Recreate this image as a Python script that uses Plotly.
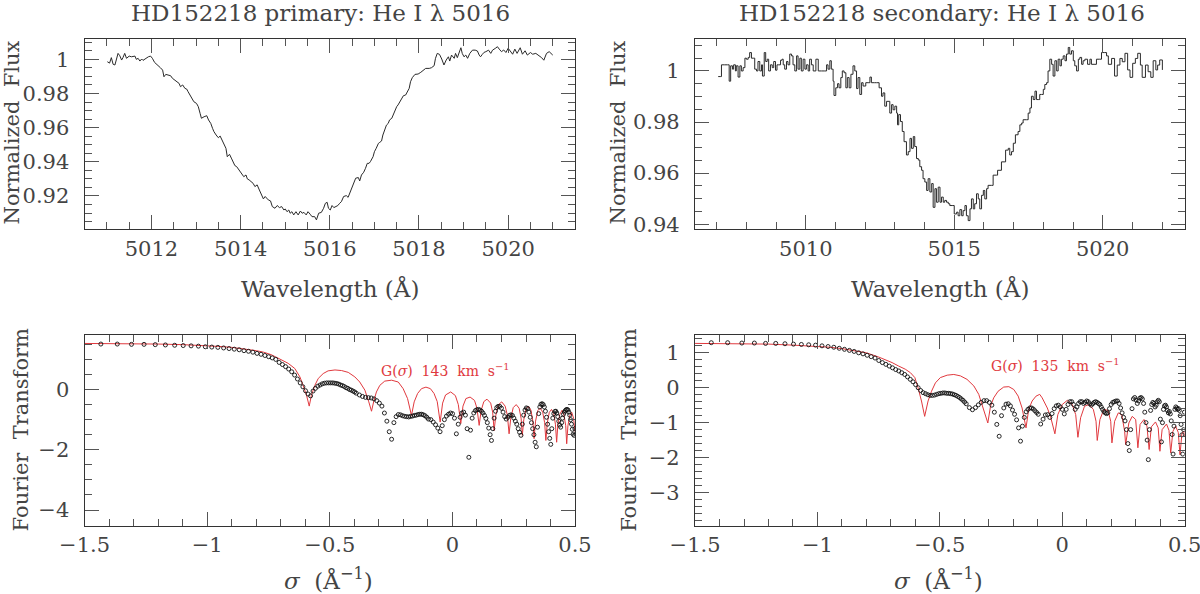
import numpy as np
import plotly.graph_objects as go

# ---- top-left: primary He I 5016 profile
prim_wave = [5011.01, 5011.06, 5011.10, 5011.14, 5011.18, 5011.21, 5011.25, 5011.29, 5011.33, 5011.36,
             5011.40, 5011.44, 5011.50, 5011.55, 5011.63, 5011.66, 5011.70, 5011.74, 5011.78, 5011.81,
             5011.87, 5011.93, 5011.98, 5012.02, 5012.07, 5012.11, 5012.15, 5012.20, 5012.25, 5012.28,
             5012.32, 5012.37, 5012.43, 5012.47, 5012.52, 5012.56, 5012.62, 5012.65, 5012.70, 5012.75,
             5012.79, 5012.82, 5012.86, 5012.90, 5012.95, 5013.01, 5013.05, 5013.09, 5013.12, 5013.18,
             5013.24, 5013.28, 5013.33, 5013.37, 5013.40, 5013.45, 5013.50, 5013.54, 5013.59, 5013.63,
             5013.67, 5013.70, 5013.75, 5013.80, 5013.83, 5013.87, 5013.91, 5013.96, 5014.02, 5014.07,
             5014.12, 5014.15, 5014.19, 5014.25, 5014.28, 5014.32, 5014.37, 5014.42, 5014.47, 5014.51,
             5014.55, 5014.58, 5014.62, 5014.67, 5014.71, 5014.77, 5014.82, 5014.87, 5014.92, 5014.97,
             5015.00, 5015.04, 5015.08, 5015.11, 5015.15, 5015.19, 5015.24, 5015.29, 5015.34, 5015.38,
             5015.42, 5015.47, 5015.51, 5015.56, 5015.60, 5015.66, 5015.70, 5015.75, 5015.81, 5015.86,
             5015.90, 5015.94, 5015.97, 5016.01, 5016.05, 5016.09, 5016.13, 5016.18, 5016.22, 5016.26,
             5016.31, 5016.37, 5016.41, 5016.46, 5016.50, 5016.54, 5016.58, 5016.64, 5016.67, 5016.71,
             5016.76, 5016.80, 5016.84, 5016.88, 5016.91, 5016.97, 5017.00, 5017.04, 5017.09, 5017.12,
             5017.16, 5017.19, 5017.23, 5017.27, 5017.31, 5017.34, 5017.39, 5017.42, 5017.46, 5017.50,
             5017.53, 5017.57, 5017.61, 5017.65, 5017.70, 5017.74, 5017.78, 5017.81, 5017.85, 5017.91,
             5017.98, 5018.04, 5018.09, 5018.15, 5018.23, 5018.28, 5018.34, 5018.37, 5018.41, 5018.46,
             5018.51, 5018.56, 5018.61, 5018.66, 5018.69, 5018.73, 5018.79, 5018.82, 5018.86, 5018.90,
             5018.94, 5018.97, 5019.01, 5019.05, 5019.09, 5019.14, 5019.20, 5019.26, 5019.31, 5019.35,
             5019.38, 5019.42, 5019.46, 5019.50, 5019.56, 5019.61, 5019.65, 5019.71, 5019.76, 5019.80,
             5019.85, 5019.90, 5019.95, 5020.00, 5020.05, 5020.10, 5020.15, 5020.20, 5020.27, 5020.32,
             5020.38, 5020.43, 5020.50, 5020.55, 5020.62, 5020.68, 5020.75, 5020.80, 5020.86, 5020.92,
             5021.00]
prim_flux = [0.9986, 0.9978, 1.0010, 0.9971, 0.9967, 1.0002, 1.0035, 1.0021, 0.9996, 1.0010,
             1.0035, 1.0006, 1.0019, 1.0015, 1.0019, 1.0000, 1.0006, 0.9990, 1.0002, 0.9994,
             1.0006, 1.0015, 1.0019, 1.0006, 0.9982, 0.9974, 0.9961, 0.9951, 0.9937, 0.9898,
             0.9912, 0.9908, 0.9904, 0.9889, 0.9879, 0.9869, 0.9859, 0.9840, 0.9850, 0.9830,
             0.9826, 0.9811, 0.9791, 0.9772, 0.9752, 0.9742, 0.9723, 0.9684, 0.9655, 0.9664,
             0.9670, 0.9645, 0.9625, 0.9596, 0.9577, 0.9557, 0.9541, 0.9551, 0.9522, 0.9498,
             0.9479, 0.9430, 0.9444, 0.9417, 0.9401, 0.9378, 0.9372, 0.9352, 0.9333, 0.9313,
             0.9323, 0.9300, 0.9294, 0.9284, 0.9274, 0.9255, 0.9265, 0.9235, 0.9206, 0.9183,
             0.9197, 0.9187, 0.9177, 0.9171, 0.9138, 0.9128, 0.9144, 0.9132, 0.9138, 0.9118,
             0.9124, 0.9108, 0.9118, 0.9099, 0.9108, 0.9089, 0.9108, 0.9089, 0.9112, 0.9099,
             0.9104, 0.9089, 0.9108, 0.9093, 0.9079, 0.9079, 0.9060, 0.9099, 0.9104, 0.9128,
             0.9157, 0.9163, 0.9128, 0.9118, 0.9144, 0.9132, 0.9138, 0.9144, 0.9157, 0.9167,
             0.9197, 0.9202, 0.9192, 0.9225, 0.9255, 0.9284, 0.9304, 0.9308, 0.9288, 0.9323,
             0.9339, 0.9362, 0.9391, 0.9391, 0.9401, 0.9430, 0.9459, 0.9479, 0.9508, 0.9514,
             0.9522, 0.9557, 0.9586, 0.9615, 0.9625, 0.9645, 0.9655, 0.9674, 0.9703, 0.9723,
             0.9733, 0.9752, 0.9772, 0.9787, 0.9791, 0.9811, 0.9830, 0.9869, 0.9893, 0.9912,
             0.9914, 0.9924, 0.9937, 0.9947, 0.9947, 0.9951, 0.9963, 1.0006, 1.0035, 1.0029,
             1.0002, 0.9967, 0.9996, 1.0015, 0.9990, 1.0025, 1.0006, 1.0035, 1.0010, 1.0045,
             1.0068, 1.0035, 1.0015, 1.0025, 1.0006, 1.0035, 1.0054, 1.0054, 1.0049, 1.0025,
             1.0015, 1.0029, 1.0041, 1.0045, 1.0054, 1.0035, 1.0054, 1.0064, 1.0074, 1.0060,
             1.0045, 1.0055, 1.0040, 1.0065, 1.0050, 1.0030, 1.0060, 1.0035, 1.0068, 1.0030,
             1.0050, 1.0025, 1.0040, 1.0030, 1.0035, 1.0025, 1.0010, 0.9995, 1.0035, 1.0045,
             1.0025]

# ---- top-right: secondary He I 5016 profile
sec_wave = [5007.05, 5007.12, 5007.16, 5007.27, 5007.36, 5007.42, 5007.47, 5007.53, 5007.57, 5007.63,
            5007.66, 5007.72, 5007.78, 5007.83, 5007.89, 5007.95, 5008.00, 5008.06, 5008.11, 5008.17,
            5008.23, 5008.28, 5008.34, 5008.39, 5008.45, 5008.51, 5008.54, 5008.60, 5008.65, 5008.70,
            5008.75, 5008.81, 5008.87, 5008.92, 5008.98, 5009.03, 5009.09, 5009.15, 5009.20, 5009.24,
            5009.29, 5009.35, 5009.40, 5009.46, 5009.52, 5009.57, 5009.63, 5009.69, 5009.74, 5009.80,
            5009.85, 5009.91, 5009.97, 5010.02, 5010.08, 5010.13, 5010.19, 5010.25, 5010.34, 5010.42,
            5010.53, 5010.64, 5010.70, 5010.75, 5010.81, 5010.86, 5010.92, 5010.95, 5011.01, 5011.07,
            5011.12, 5011.18, 5011.23, 5011.29, 5011.35, 5011.40, 5011.46, 5011.52, 5011.59, 5011.65,
            5011.71, 5011.76, 5011.82, 5011.88, 5011.93, 5012.02, 5012.10, 5012.16, 5012.21, 5012.32,
            5012.38, 5012.47, 5012.55, 5012.60, 5012.66, 5012.72, 5012.77, 5012.83, 5012.89, 5012.94,
            5013.00, 5013.06, 5013.09, 5013.13, 5013.19, 5013.25, 5013.31, 5013.39, 5013.45, 5013.51,
            5013.56, 5013.62, 5013.67, 5013.73, 5013.79, 5013.84, 5013.90, 5013.95, 5014.01, 5014.07,
            5014.12, 5014.18, 5014.24, 5014.29, 5014.35, 5014.40, 5014.46, 5014.52, 5014.57, 5014.63,
            5014.68, 5014.74, 5014.80, 5014.85, 5014.93, 5015.00, 5015.08, 5015.13, 5015.19, 5015.25,
            5015.30, 5015.36, 5015.41, 5015.47, 5015.53, 5015.58, 5015.64, 5015.69, 5015.75, 5015.81,
            5015.86, 5015.92, 5015.98, 5016.03, 5016.09, 5016.14, 5016.26, 5016.31, 5016.42, 5016.46,
            5016.54, 5016.59, 5016.68, 5016.73, 5016.82, 5016.87, 5016.93, 5016.99, 5017.06, 5017.15,
            5017.21, 5017.27, 5017.32, 5017.43, 5017.49, 5017.55, 5017.60, 5017.66, 5017.72, 5017.77,
            5017.83, 5017.88, 5017.94, 5018.00, 5018.05, 5018.11, 5018.16, 5018.22, 5018.28, 5018.33,
            5018.39, 5018.45, 5018.50, 5018.56, 5018.61, 5018.67, 5018.73, 5018.78, 5018.84, 5018.89,
            5018.95, 5019.01, 5019.06, 5019.12, 5019.18, 5019.23, 5019.29, 5019.34, 5019.40, 5019.49,
            5019.57, 5019.62, 5019.74, 5019.79, 5019.90, 5019.96, 5020.07, 5020.13, 5020.19, 5020.30,
            5020.40, 5020.49, 5020.58, 5020.66, 5020.75, 5020.84, 5020.92, 5021.01, 5021.10, 5021.18,
            5021.27, 5021.33, 5021.44, 5021.53, 5021.62, 5021.70, 5021.79, 5021.85, 5021.92, 5022.01]
sec_flux = [0.9978, 0.9978, 1.0024, 1.0024, 1.0024, 0.9960, 1.0020, 1.0007, 1.0024, 1.0000,
            1.0020, 0.9976, 1.0020, 1.0000, 1.0013, 1.0050, 1.0046, 1.0053, 1.0072, 1.0050,
            1.0050, 1.0007, 1.0000, 1.0037, 1.0000, 1.0024, 0.9980, 1.0072, 1.0037, 1.0046,
            1.0000, 1.0024, 1.0013, 1.0037, 1.0003, 1.0024, 1.0024, 1.0042, 1.0046, 1.0024,
            1.0007, 1.0037, 1.0024, 1.0066, 1.0059, 1.0024, 1.0000, 1.0059, 1.0007, 1.0050,
            1.0000, 1.0046, 1.0007, 1.0024, 1.0000, 1.0046, 1.0024, 1.0000, 1.0046, 1.0000,
            1.0000, 1.0000, 1.0024, 1.0007, 1.0040, 1.0007, 0.9960, 0.9904, 0.9934, 0.9950,
            0.9934, 0.9974, 1.0000, 0.9993, 0.9934, 0.9974, 0.9934, 0.9987, 1.0020, 1.0000,
            0.9931, 0.9974, 0.9908, 0.9954, 0.9941, 0.9954, 0.9954, 0.9976, 0.9954, 0.9954,
            0.9954, 0.9934, 0.9901, 0.9914, 0.9862, 0.9881, 0.9881, 0.9835, 0.9868, 0.9848,
            0.9862, 0.9835, 0.9789, 0.9829, 0.9802, 0.9763, 0.9723, 0.9671, 0.9684, 0.9736,
            0.9697, 0.9743, 0.9704, 0.9657, 0.9651, 0.9625, 0.9611, 0.9578, 0.9565, 0.9532,
            0.9578, 0.9526, 0.9559, 0.9466, 0.9539, 0.9486, 0.9545, 0.9486, 0.9506, 0.9486,
            0.9493, 0.9486, 0.9480, 0.9473, 0.9473, 0.9440, 0.9447, 0.9433, 0.9457, 0.9433,
            0.9453, 0.9473, 0.9433, 0.9414, 0.9460, 0.9499, 0.9460, 0.9480, 0.9519, 0.9499,
            0.9460, 0.9513, 0.9532, 0.9499, 0.9539, 0.9552, 0.9552, 0.9592, 0.9592, 0.9611,
            0.9611, 0.9644, 0.9644, 0.9690, 0.9697, 0.9671, 0.9684, 0.9717, 0.9750, 0.9763,
            0.9789, 0.9796, 0.9809, 0.9809, 0.9835, 0.9855, 0.9901, 0.9888, 0.9921, 0.9888,
            0.9888, 0.9908, 0.9908, 0.9928, 0.9947, 0.9954, 1.0000, 1.0046, 1.0026, 0.9980,
            1.0040, 1.0000, 1.0046, 1.0020, 1.0046, 1.0059, 1.0040, 1.0066, 1.0092, 1.0066,
            1.0079, 1.0040, 1.0020, 1.0000, 1.0046, 1.0053, 1.0026, 1.0040, 1.0046, 1.0026,
            1.0046, 1.0026, 1.0026, 1.0046, 1.0046, 1.0072, 1.0072, 1.0059, 1.0026, 1.0049,
            0.9980, 1.0023, 1.0049, 1.0036, 1.0069, 1.0004, 0.9975, 1.0030, 1.0049, 1.0069,
            1.0023, 0.9975, 1.0023, 0.9997, 0.9975, 1.0040, 1.0004, 1.0023, 1.0043, 1.0004]

# ---- Fourier transforms: frequency sample index k, sigma = k * step
sigma_step = 0.00614
ft_k = list(range(6, 67)) + list(range(68, 131, 2)) + list(range(133, 251, 3)) + list(range(254, 515, 4))

prim_ft = [1.51, 1.51, 1.50, 1.50, 1.49, 1.48, 1.47, 1.46, 1.45, 1.44, 1.42, 1.41, 1.40,
           1.38, 1.36, 1.34, 1.32, 1.29, 1.27, 1.24, 1.20, 1.17, 1.13, 1.09, 1.05, 1.00,
           0.90, 0.83, 0.76, 0.68, 0.59, 0.48, 0.35, 0.22, 0.09, -0.04, -0.15, -0.21, -0.05,
           0.04, 0.11, 0.15, 0.19, 0.21, 0.22, 0.22, 0.22, 0.22, 0.21, 0.20, 0.18, 0.15,
           0.13, 0.10, 0.06, 0.04, 0.00, -0.02, -0.05, -0.08, -0.12,
           -0.18, -0.23, -0.26, -0.27, -0.28, -0.31, -0.37, -0.45, -0.55, -0.78, -1.05, -1.40,
           -1.65, -1.10, -0.90, -0.83, -0.84, -0.87, -0.89, -0.90, -0.91, -0.89, -0.88, -0.86,
           -0.85, -0.83, -0.82, -0.82, -0.84, -0.87, -0.92, -0.98,
           -1.00, -1.08, -1.17, -1.28, -1.40, -1.20, -1.00, -0.88, -0.82, -0.78,
           -0.80, -0.95, -1.47, -1.15, -0.92, -0.78, -0.75, -0.85, -1.30, -2.25,
           -1.35, -0.95, -0.78, -0.70, -0.67, -0.66, -0.68, -0.72, -0.78, -0.86,
           -0.96, -1.10, -1.28, -1.50, -1.69, -1.30, -0.95, -0.72, -0.60, -0.56,
           -0.56, -0.62, -0.75, -0.90, -0.98, -0.92, -0.86, -0.84, -0.86, -0.95,
           -1.05, -1.15, -1.30, -1.42, -1.52, -1.15, -0.85, -0.68, -0.61, -0.63,
           -0.75, -0.92, -1.10, -1.30, -1.50, -1.75, -1.90, -1.25, -0.80, -0.58,
           -0.49, -0.47, -0.50, -0.58, -0.72, -0.92, -1.15, -1.40, -1.62, -1.82,
           -1.30, -0.95, -0.80, -0.73, -0.72, -0.78, -0.90, -1.05, -1.18, -1.25,
           -1.10, -0.95, -0.82, -0.75, -0.70, -0.67, -0.66, -0.68, -0.75, -0.85,
           -1.00, -1.15, -1.32, -1.48, -1.52, -1.30]

sec_ft = [1.29, 1.29, 1.28, 1.28, 1.27, 1.27, 1.26, 1.25, 1.24, 1.23, 1.22, 1.20, 1.18,
          1.16, 1.13, 1.10, 1.07, 1.04, 1.00, 0.97, 0.93, 0.89, 0.85, 0.78, 0.72, 0.67,
          0.62, 0.57, 0.52, 0.48, 0.43, 0.38, 0.31, 0.24, 0.17, 0.09, 0.00, -0.08, -0.14,
          -0.17, -0.20, -0.22, -0.22, -0.21, -0.19, -0.17, -0.16, -0.15, -0.15, -0.16, -0.16, -0.17,
          -0.18, -0.20, -0.22, -0.25, -0.28, -0.32, -0.36, -0.41, -0.46,
          -0.57, -0.63, -0.57, -0.49, -0.42, -0.37, -0.37, -0.42, -0.50, -0.70, -1.05, -1.39,
          -0.80, -0.58, -0.47, -0.46, -0.52, -0.64, -0.76, -0.92, -1.15, -1.53, -1.10, -0.85,
          -0.69, -0.62, -0.58, -0.58, -0.61, -0.66, -0.71, -0.76,
          -1.04, -0.90, -0.78, -0.77, -0.85, -0.74, -0.60, -0.52, -0.50, -0.55,
          -0.62, -0.75, -0.62, -0.48, -0.40, -0.40, -0.48, -0.62, -0.55, -0.45,
          -0.40, -0.40, -0.45, -0.42, -0.38, -0.40, -0.46, -0.50, -0.46, -0.42,
          -0.40, -0.42, -0.45, -0.48, -0.55, -0.62, -0.68, -0.72, -0.74, -0.72,
          -0.60, -0.48, -0.42, -0.40, -0.38, -0.38, -0.45, -0.58, -0.72, -0.85,
          -0.95, -1.20, -1.60, -1.80, -1.20, -0.60, -0.32, -0.28, -0.35, -0.45,
          -0.38, -0.30, -0.28, -0.32, -0.45, -0.70, -1.00, -1.50, -2.06, -1.20,
          -0.65, -0.48, -0.42, -0.45, -0.55, -0.50, -0.40, -0.36, -0.40, -0.90,
          -1.55, -1.00, -0.62, -0.52, -0.50, -0.55, -0.65, -0.72, -0.68, -0.75,
          -0.95, -1.34, -1.90, -1.10, -0.62, -0.55, -0.58, -0.62, -0.60, -0.65,
          -0.80, -1.05, -1.35, -1.90, -1.20, -0.70]

# rotational profile transforms G(sigma) (x already log sigma)
g143_x = [-1.5, -1.4, -1.3, -1.2, -1.1, -1.0, -0.95, -0.9, -0.85, -0.8, -0.77, -0.74, -0.72,
          -0.697, -0.67, -0.643, -0.622, -0.609, -0.595, -0.584, -0.575, -0.561, -0.547, -0.527,
          -0.507, -0.479, -0.452, -0.425, -0.398, -0.378, -0.357, -0.341, -0.330, -0.320, -0.310,
          -0.296, -0.276, -0.248, -0.221, -0.201, -0.183, -0.167, -0.156, -0.142, -0.126, -0.108,
          -0.090, -0.075, -0.062, -0.050, -0.040, -0.028, -0.007, 0.012, 0.024, 0.034, 0.043,
          0.055, 0.072, 0.090, 0.100, 0.109, 0.117, 0.128, 0.141, 0.156, 0.164, 0.170, 0.177,
          0.188, 0.201, 0.215, 0.224, 0.231, 0.238, 0.248, 0.260, 0.272, 0.280, 0.285, 0.291,
          0.300, 0.310, 0.320, 0.328, 0.333, 0.339, 0.348, 0.358, 0.368, 0.376, 0.381, 0.387,
          0.395, 0.404, 0.413, 0.420, 0.425, 0.430, 0.438, 0.447, 0.455, 0.462, 0.466, 0.471,
          0.478, 0.486, 0.494, 0.5]
g143_y = [1.53, 1.53, 1.52, 1.51, 1.49, 1.46, 1.43, 1.40, 1.35, 1.29, 1.24, 1.16, 1.08,
          0.98, 0.87, 0.70, 0.42, 0.14, -0.19, -0.55, -0.19, 0.14, 0.37, 0.53,
          0.62, 0.65, 0.63, 0.57, 0.42, 0.25, -0.02, -0.41, -0.72, -0.36, -0.08,
          0.14, 0.28, 0.31, 0.25, 0.03, -0.30, -0.86, -0.41, -0.13, 0.03, 0.08,
          0.03, -0.13, -0.40, -1.08, -0.45, -0.18, -0.08, -0.20, -0.50, -1.13, -0.55,
          -0.30, -0.25, -0.36, -0.62, -1.19, -0.70, -0.40, -0.32, -0.45, -0.75, -1.36, -0.85,
          -0.50, -0.41, -0.55, -0.85, -1.47, -0.95, -0.60, -0.50, -0.62, -0.95, -1.52, -1.00,
          -0.65, -0.55, -0.68, -1.05, -1.63, -1.05, -0.70, -0.61, -0.75, -1.10, -1.69, -1.10,
          -0.76, -0.66, -0.80, -1.15, -1.75, -1.15, -0.82, -0.69, -0.85, -1.20, -1.80, -1.20,
          -0.88, -0.75, -0.95, -1.40]

g135_x = [-1.5, -1.4, -1.3, -1.2, -1.1, -1.0, -0.95, -0.9, -0.85, -0.8, -0.75, -0.72, -0.695,
          -0.668, -0.641, -0.620, -0.602, -0.589, -0.575, -0.562, -0.548, -0.534, -0.518, -0.498,
          -0.470, -0.443, -0.416, -0.389, -0.361, -0.341, -0.325, -0.304, -0.293, -0.280, -0.262,
          -0.239, -0.218, -0.198, -0.180, -0.164, -0.148, -0.137, -0.123, -0.107, -0.092, -0.082,
          -0.061, -0.048, -0.030, -0.018, 0.000, 0.021, 0.041, 0.055, 0.064, 0.075, 0.091, 0.109,
          0.127, 0.138, 0.143, 0.154, 0.170, 0.187, 0.198, 0.203, 0.214, 0.229, 0.243, 0.255,
          0.259, 0.272, 0.286, 0.300, 0.309, 0.318, 0.334, 0.346, 0.355, 0.364, 0.381, 0.392,
          0.399, 0.408, 0.426, 0.436, 0.443, 0.452, 0.463, 0.474, 0.481, 0.489, 0.497, 0.5]
g135_y = [1.27, 1.27, 1.26, 1.25, 1.22, 1.19, 1.16, 1.12, 1.07, 1.00, 0.88, 0.80, 0.72,
          0.62, 0.53, 0.43, 0.29, 0.00, -0.38, -0.82, -0.38, -0.10, 0.14, 0.29,
          0.36, 0.38, 0.34, 0.24, 0.05, -0.19, -0.53, -1.01, -0.53, -0.29, -0.10,
          0.02, 0.03, -0.05, -0.24, -0.58, -1.15, -0.62, -0.38, -0.24, -0.19, -0.29,
          -0.58, -0.82, -1.32, -0.77, -0.48, -0.36, -0.48, -0.77, -1.42, -0.86, -0.53, -0.48,
          -0.62, -0.96, -1.51, -0.91, -0.62, -0.65, -0.96, -1.58, -0.96, -0.72, -0.77, -1.25,
          -1.63, -1.01, -0.82, -0.91, -1.72, -1.05, -0.91, -1.10, -1.77, -1.12, -0.98, -1.15,
          -1.82, -1.20, -1.04, -1.22, -1.87, -1.25, -1.10, -1.28, -1.92, -1.30, -1.25, -1.40]

ft_x = np.log10(np.array(ft_k) * sigma_step)

FONT = "DejaVu Serif"
TXT = "#444444"
RED = "#e0393e"

fig = go.Figure()
fig.add_trace(go.Scatter(x=prim_wave, y=prim_flux, mode="lines",
                         line=dict(color="#2a2a2a", width=1), xaxis="x", yaxis="y"))
fig.add_trace(go.Scatter(x=sec_wave, y=sec_flux, mode="lines", line_shape="hv",
                         line=dict(color="#2a2a2a", width=1), xaxis="x2", yaxis="y2"))
fig.add_trace(go.Scatter(x=g143_x, y=g143_y, mode="lines",
                         line=dict(color=RED, width=1), xaxis="x3", yaxis="y3"))
fig.add_trace(go.Scatter(x=ft_x, y=prim_ft, mode="markers",
                         marker=dict(symbol="circle-open", size=4, color="#111111", line=dict(width=0.9)),
                         xaxis="x3", yaxis="y3"))
fig.add_trace(go.Scatter(x=g135_x, y=g135_y, mode="lines",
                         line=dict(color=RED, width=1), xaxis="x4", yaxis="y4"))
fig.add_trace(go.Scatter(x=ft_x, y=sec_ft, mode="markers",
                         marker=dict(symbol="circle-open", size=4, color="#111111", line=dict(width=0.9)),
                         xaxis="x4", yaxis="y4"))


def ax(domain, rng, dtick, minor, anchor, standoff):
    return dict(domain=domain, range=rng, dtick=dtick, anchor=anchor, automargin=False,
                showline=True, linecolor="#333333", linewidth=1.2, mirror="allticks",
                ticks="inside", ticklen=14, tickwidth=1, tickcolor="#555555",
                minor=dict(dtick=minor, ticks="inside", ticklen=7, tickcolor="#555555", tickwidth=1),
                showgrid=False, zeroline=False, ticklabelstandoff=standoff,
                ticklabeloverflow="allow",
                tickfont=dict(family=FONT, size=21, color=TXT))


left = [0.0705, 0.4792]
right = [0.5792, 0.9872]
top = [0.614, 0.9343]
bot = [0.1145, 0.436]

fig.update_layout(
    width=1200, height=594, showlegend=False,
    paper_bgcolor="white", plot_bgcolor="white",
    margin=dict(l=0, r=0, t=0, b=0),
    xaxis=ax(left, [5010.5, 5021.5], 2, 0.5, "y", 0),
    yaxis=ax(top, [0.9005, 1.0119], 0.02, 0.005, "x", 10),
    xaxis2=ax(right, [5006.27, 5022.76], 5, 1, "y2", 0),
    yaxis2=ax(top, [0.938, 1.0125], 0.02, 0.005, "x2", 10),
    xaxis3=ax(left, [-1.5, 0.5], 0.5, 0.1, "y3", 0),
    yaxis3=ax(bot, [-4.53, 1.81], 2, 0.5, "x3", 10),
    xaxis4=ax(right, [-1.5, 0.5], 0.5, 0.1, "y4", 0),
    yaxis4=ax(bot, [-3.96, 1.51], 1, 0.2, "x4", 10),
)

lab = dict(family=FONT, size=23, color=TXT)
ylab = dict(family=FONT, size=21, color=TXT)
notes = [
    (0.2667, 0.978, "HD152218 primary: He I λ 5016", 0, lab),
    (0.785, 0.978, "HD152218 secondary: He I λ 5016", 0, lab),
    (0.275, 0.515, "Wavelength (Å)", 0, lab),
    (0.783, 0.515, "Wavelength (Å)", 0, lab),
    (0.274, 0.026, "<i>σ</i>  (Å<sup>−1</sup>)", 0, lab),
    (0.782, 0.026, "<i>σ</i>  (Å<sup>−1</sup>)", 0, lab),
    (0.0108, 0.777, "Normalized  Flux", -90, ylab),
    (0.515, 0.777, "Normalized  Flux", -90, ylab),
    (0.0178, 0.276, "Fourier  Transform", -90, ylab),
    (0.524, 0.276, "Fourier  Transform", -90, ylab),
]
for x, y, t, ang, f in notes:
    fig.add_annotation(x=x, y=y, xref="paper", yref="paper", text=t, showarrow=False,
                       textangle=ang, font=f, xanchor="center", yanchor="middle")

fig.add_annotation(x=-0.30, y=0.64, xref="x3", yref="y3", text="G(<i>σ</i>)  143  km  s<sup>−1</sup>",
                   showarrow=False, xanchor="left", yanchor="middle",
                   font=dict(family=FONT, size=14, color=RED))
fig.add_annotation(x=-0.30, y=0.646, xref="x4", yref="y4", text="G(<i>σ</i>)  135  km  s<sup>−1</sup>",
                   showarrow=False, xanchor="left", yanchor="middle",
                   font=dict(family=FONT, size=14, color=RED))

# page body margin would shift the figure by 8 px
fig.write_html("out.html", config={"displayModeBar": False},
               post_script="document.body.style.margin='0';")
